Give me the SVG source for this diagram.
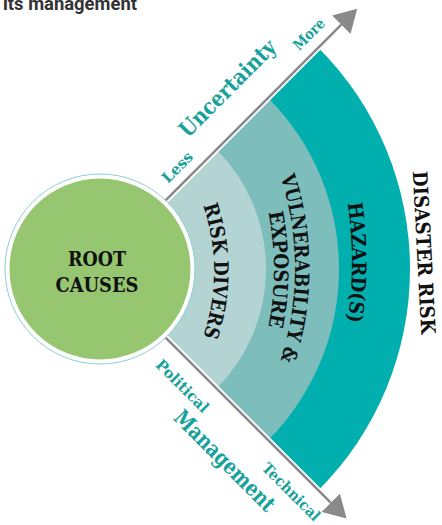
<svg xmlns="http://www.w3.org/2000/svg" width="442" height="525" viewBox="0 0 442 525">
  <style>
    .band { font-family: "DejaVu Serif", "Liberation Serif", serif; font-weight: bold; font-size: 20px; fill: #111; }
    .axis-sm { font-family: "DejaVu Serif", "Liberation Serif", serif; font-weight: bold; font-size: 15px; fill: #17A19C; }
    .axis-lg { font-family: "DejaVu Serif", "Liberation Serif", serif; font-weight: bold; font-size: 22px; fill: #17A19C; }
    .title { font-family: Roboto, "Liberation Sans", sans-serif; font-weight: bold; font-size: 18px; fill: #333; }
    .arrow { stroke: #8A8A8A; stroke-width: 2.5; fill: none; }
    .gap { stroke: #FFFFFF; stroke-width: 6; fill: none; }
  </style>
  <defs>
    <marker id="head" markerUnits="userSpaceOnUse" markerWidth="23" markerHeight="26" viewBox="0 0 22.5 26" refX="0" refY="13" orient="auto">
      <path d="M0 0 L22.5 13 L0 26 Z" fill="#8A8A8A"/>
    </marker>
    <path id="p-risk" d="M142.6 117.8 A200 200 0 0 1 142.6 424.2"/>
    <path id="p-exp" d="M203.8 76.7 A300 300 0 0 1 203.8 462.3"/>
    <path id="p-vul" d="M224.8 75.7 A300 300 0 0 1 224.8 461.3"/>
    <path id="p-haz" d="M298.4 62.5 A400 400 0 0 1 298.4 462.5"/>
  </defs>

  <rect width="442" height="525" fill="#FFFFFF"/>

  <text class="title" x="3" y="10" textLength="134" lengthAdjust="spacingAndGlyphs">its management</text>

  <g id="band-hazard">
    <path d="M97 269 L318.33 47.67 A313 313 0 0 1 318.33 490.33 Z" fill="#00AFAE"/>
  </g>
  <g id="band-vulnerability">
    <path d="M97 269 L268.12 97.88 A242 242 0 0 1 268.12 440.12 Z" fill="#7DBDBC"/>
  </g>
  <g id="band-risk-drivers">
    <path d="M97 269 L216.5 149.5 A169 169 0 0 1 216.5 388.5 Z" fill="#B4D4D4"/>
  </g>

  <g id="connectors">
    <line class="gap" x1="165.6" y1="200.4" x2="341.3" y2="24.7"/>
    <line class="gap" x1="165.6" y1="337.6" x2="330.7" y2="502.7"/>
    <line class="arrow" x1="165.6" y1="200.4" x2="341.3" y2="24.7" marker-end="url(#head)"/>
    <line class="arrow" x1="165.6" y1="337.6" x2="330.7" y2="502.7" marker-end="url(#head)"/>
  </g>

  <g id="node-root-causes">
    <circle cx="100" cy="269" r="95" fill="#FFFFFF" stroke="#8CCFCF" stroke-width="1"/>
    <circle cx="100" cy="269" r="90.5" fill="#96C670"/>
    <text class="band" font-size="21" x="97" y="266" text-anchor="middle" textLength="58" lengthAdjust="spacingAndGlyphs">ROOT</text>
    <text class="band" font-size="21" x="97" y="291.7" text-anchor="middle" textLength="83" lengthAdjust="spacingAndGlyphs">CAUSES</text>
  </g>

  <g id="label-risk-drivers">
    <text class="band"><textPath href="#p-risk" startOffset="50%" text-anchor="middle" textLength="133" lengthAdjust="spacingAndGlyphs">RISK DIVERS</textPath></text>
  </g>
  <g id="label-vulnerability">
    <text class="band" font-size="18"><textPath href="#p-vul" startOffset="50%" text-anchor="middle" textLength="187" lengthAdjust="spacingAndGlyphs">VULNERABILITY &amp;</textPath></text>
    <text class="band" font-size="18"><textPath href="#p-exp" startOffset="50%" text-anchor="middle" textLength="115" lengthAdjust="spacingAndGlyphs">EXPOSURE</textPath></text>
  </g>
  <g id="label-hazard">
    <text class="band"><textPath href="#p-haz" startOffset="50%" text-anchor="middle" textLength="119" lengthAdjust="spacingAndGlyphs">HAZARD(S)</textPath></text>
  </g>
  <g id="label-disaster-risk">
    <text class="band" font-size="19" transform="translate(417 253) rotate(87)" text-anchor="middle" textLength="163" lengthAdjust="spacingAndGlyphs">DISASTER RISK</text>
  </g>

  <g id="axis-uncertainty">
    <text class="axis-sm" transform="translate(181 170.9) rotate(-45)" text-anchor="middle" textLength="37" lengthAdjust="spacingAndGlyphs">Less</text>
    <text class="axis-lg" transform="translate(232.8 93.6) rotate(-45)" text-anchor="middle" textLength="127" lengthAdjust="spacingAndGlyphs">Uncertainty</text>
    <text class="axis-sm" transform="translate(312.6 37.8) rotate(-45)" text-anchor="middle" textLength="38" lengthAdjust="spacingAndGlyphs">More</text>
  </g>
  <g id="axis-management">
    <text class="axis-sm" transform="translate(178.7 389.7) rotate(45)" text-anchor="middle" textLength="68" lengthAdjust="spacingAndGlyphs">Political</text>
    <text class="axis-lg" transform="translate(219.5 466.1) rotate(45)" text-anchor="middle" textLength="133" lengthAdjust="spacingAndGlyphs">Management</text>
    <text class="axis-sm" transform="translate(287.6 495.6) rotate(45)" text-anchor="middle" textLength="75" lengthAdjust="spacingAndGlyphs">Technical</text>
  </g>
</svg>
